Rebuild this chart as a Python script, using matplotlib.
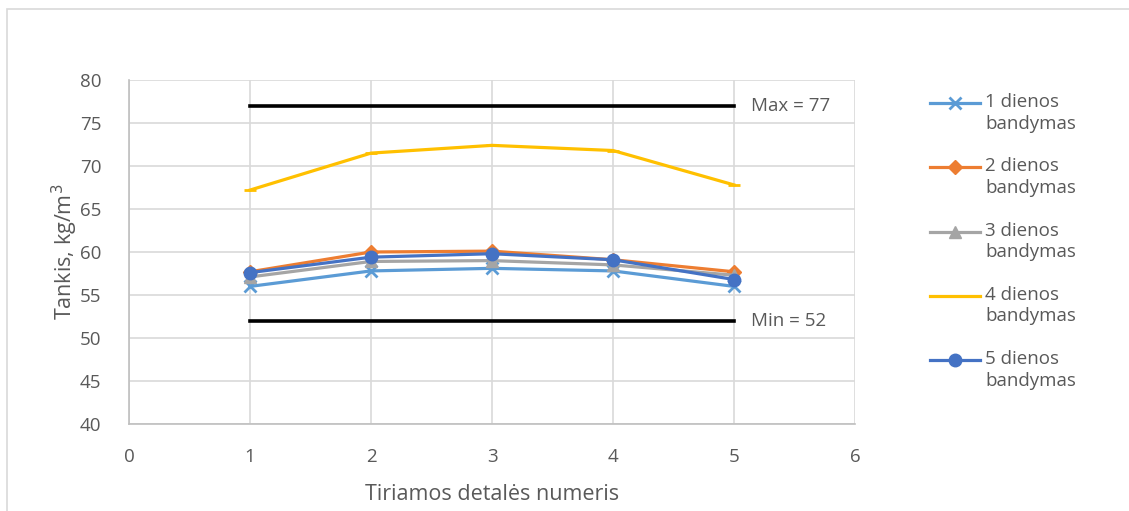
import matplotlib.pyplot as plt
import matplotlib.patches as patches
from matplotlib.lines import Line2D

# data
detales = [1, 2, 3, 4, 5]
diena_1 = [56.0, 57.8, 58.1, 57.8, 56.0]
diena_2 = [57.7, 60.0, 60.1, 59.1, 57.7]
diena_3 = [57.1, 58.9, 59.0, 58.5, 57.3]
diena_4 = [67.2, 71.5, 72.4, 71.8, 67.8]
diena_5 = [57.6, 59.4, 59.8, 59.1, 56.8]
max_val = [77, 77, 77, 77, 77]
min_val = [52, 52, 52, 52, 52]
labels = ['1 dienos\nbandymas', '2 dienos\nbandymas', '3 dienos\nbandymas',
          '4 dienos\nbandymas', '5 dienos\nbandymas']

colors = ['#5B9BD5', '#ED7D31', '#A5A5A5', '#FFC000', '#4472C4']
markers = ['x', 'D', '^', '_', 'o']
msizes = [8, 7, 8, 9, 9]

plt.rcParams['font.family'] = ['Open Sans', 'DejaVu Sans']
txt = '#595959'

fig = plt.figure(figsize=(11.29, 5.11), dpi=100)
W, H = 1129, 511
ax = fig.add_axes([129 / W, 1 - 424 / H, (855 - 129) / W, (424 - 80) / H])

# outer chart border
fig.add_artist(patches.Rectangle((7 / W, -0.05), 1.2, 1 - 9 / H + 0.05,
                                 transform=fig.transFigure, fill=False,
                                 edgecolor='#d9d9d9', linewidth=1.2))

series = [diena_1, diena_2, diena_3, diena_4, diena_5]
for i, s in enumerate(series):
    ax.plot(detales, s, color=colors[i], linewidth=2.3, marker=markers[i],
            markersize=msizes[i], markeredgewidth=2 if markers[i] in 'x_' else 1,
            zorder=3 + i)

ax.plot(detales, max_val, color='black', linewidth=2.6, zorder=2)
ax.plot(detales, min_val, color='black', linewidth=2.6, zorder=2)
ax.text(5.14, max_val[-1], 'Max = 77', va='center', ha='left', fontsize=13.5, color=txt)
ax.text(5.14, min_val[-1], 'Min = 52', va='center', ha='left', fontsize=13.5, color=txt)

ax.set_xlim(0, 6)
ax.set_ylim(40, 80)
ax.set_xticks(range(0, 7))
ax.set_yticks(range(40, 81, 5))
ax.grid(True, color='#d9d9d9', linewidth=1.2)
ax.set_axisbelow(True)
for side in ['top', 'right']:
    ax.spines[side].set_visible(False)
for side in ['left', 'bottom']:
    ax.spines[side].set_color('#bfbfbf')
    ax.spines[side].set_linewidth(1.2)
ax.tick_params(length=0, labelsize=13.5, colors=txt)
ax.tick_params(axis='y', pad=20)
ax.tick_params(axis='x', pad=17)
ax.set_xlabel('Tiriamos detalės numeris', fontsize=15.5, color=txt, labelpad=13)
ax.set_ylabel('Tankis, kg/m$^3$', fontsize=15.5, color=txt, labelpad=0)

# legend, laid out like the spreadsheet one (handle on first text line)
for i, lab in enumerate(labels):
    yc = 1 - (103 + i * 64.3) / H
    fig.add_artist(Line2D([930 / W, 980 / W], [yc, yc], transform=fig.transFigure,
                          color=colors[i], linewidth=2.3))
    fig.add_artist(Line2D([955 / W], [yc], transform=fig.transFigure,
                          color=colors[i], marker=markers[i], markersize=msizes[i],
                          markeredgewidth=2 if markers[i] in 'x_' else 1))
    fig.text(985 / W, yc + 10 / H, lab, va='top', ha='left', fontsize=13.5,
             color=txt, linespacing=1.25)

fig.savefig('out.png', dpi=100)
